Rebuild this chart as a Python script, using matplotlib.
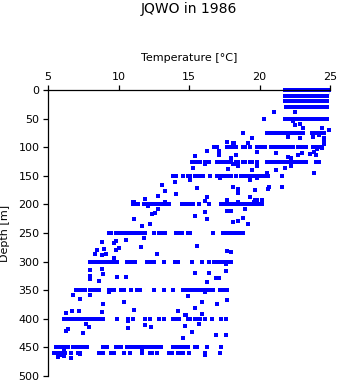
import numpy as np
import matplotlib
matplotlib.use("Agg")
from matplotlib import pyplot as plt

# temperatures (degC)
t_000 = [21.8, 21.9, 22.0, 22.1, 22.2, 22.3, 22.5, 22.7, 22.8, 22.9, 23.0, 23.1, 23.2, 23.3,
         23.6, 23.7, 23.8, 23.9, 24.0, 24.1, 24.2, 24.3, 24.4, 24.5, 24.6, 24.7, 24.8, 24.9]
t_010 = [21.8, 21.9, 22.0, 22.2, 22.3, 22.4, 22.5, 22.6, 22.7, 22.8, 22.9, 23.0, 23.1, 23.2,
         23.3, 23.5, 23.6, 23.7, 23.8, 23.9, 24.0, 24.1, 24.2, 24.3, 24.4, 24.5, 24.6, 24.7, 24.8]
t_020 = [21.8, 21.9, 22.0, 22.1, 22.2, 22.3, 22.4, 22.5, 22.6, 22.7, 22.8, 22.9, 23.0, 23.1,
         23.2, 23.3, 23.5, 23.6, 23.7, 23.8, 23.9, 24.0, 24.1, 24.2, 24.3, 24.4, 24.5, 24.6, 24.7, 24.8]
t_030 = [21.9, 22.0, 22.1, 22.3, 22.4, 22.5, 22.6, 22.7, 22.8, 22.9, 23.0, 23.1, 23.3, 23.5, 23.6,
         23.8, 23.9, 24.0, 24.1, 24.2, 24.3, 24.4, 24.5, 24.6, 24.7, 24.8]
t_050 = [20.3, 21.8, 21.9, 22.1, 22.2, 22.3, 22.5, 22.6, 22.7, 22.8, 23.0, 23.1, 23.2, 23.4,
         23.5, 23.6, 23.8, 23.9, 24.0, 24.1, 24.3, 24.4, 24.5, 24.7, 24.8]
t_075 = [18.8, 20.5, 20.7, 20.9, 21.1, 21.3, 21.6, 21.8, 22.0, 22.2, 22.4, 22.6, 22.7, 22.9,
         23.1, 23.7, 23.9, 24.0, 24.2, 24.4, 24.6]
t_100 = [16.8, 17.0, 17.7, 17.9, 18.1, 18.3, 18.8, 19.0, 19.3, 19.8, 20.0, 20.2, 20.4, 20.8,
         21.0, 21.2, 21.4, 21.6, 21.8, 22.0, 22.2, 22.4, 22.7, 22.9, 23.1, 23.3, 23.8, 24.0, 24.2, 24.4]
t_125 = [15.2, 15.5, 15.8, 16.1, 16.4, 17.0, 17.2, 17.4, 17.6, 17.8, 18.0, 18.3, 18.5, 18.8,
         19.0, 19.3, 19.5, 19.8, 20.5, 20.7, 20.9, 21.1, 21.3, 21.5, 21.7, 21.9, 22.1, 22.3,
         22.5, 22.7, 22.9, 23.1, 23.3, 24.0, 24.2]
t_150 = [13.9, 14.1, 14.6, 14.9, 15.1, 15.4, 15.7, 16.0, 16.5, 17.0, 17.2, 17.5, 17.8, 18.0,
         18.3, 18.7, 18.9, 19.2, 19.5, 19.7, 19.9, 20.2, 20.4, 20.6, 21.6]
t_200 = [11.0, 11.2, 11.4, 11.8, 12.1, 12.3, 12.5, 12.7, 12.9, 13.1, 13.4, 13.6, 14.5, 14.7,
         14.9, 15.1, 15.3, 15.7, 16.4, 17.3, 17.5, 17.7, 18.0, 18.2, 18.4, 18.6, 18.8, 19.0,
         19.2, 19.4, 19.6, 19.8, 20.0, 20.2]
t_250 = [9.3, 9.5, 9.8, 10.0, 10.3, 10.5, 10.7, 10.9, 11.1, 11.3, 11.5, 11.7, 11.9, 12.5, 12.9,
         13.1, 13.3, 14.1, 14.3, 14.5, 14.9, 15.1, 16.7, 17.4, 17.6, 17.8, 18.0, 18.2, 18.4, 18.6, 18.8]
t_300 = [8.0, 8.2, 8.4, 8.6, 8.8, 9.0, 9.2, 9.5, 9.7, 9.9, 10.6, 10.8, 11.0, 11.2, 12.0, 12.2,
         12.5, 13.2, 14.0, 14.2, 15.2, 15.9, 16.4, 16.8, 17.0, 17.2, 17.4, 17.6, 17.8, 18.0]
t_350 = [7.0, 7.2, 7.4, 7.6, 8.0, 8.2, 8.4, 8.6, 9.3, 9.5, 9.7, 10.2, 10.4, 10.9, 11.3, 11.5,
         12.5, 13.2, 13.9, 14.6, 14.8, 15.0, 15.3, 15.5, 15.7, 15.9, 16.1, 16.3, 16.5, 16.7,
         17.2, 17.5, 17.7]
t_400 = [6.1, 6.3, 6.5, 6.7, 6.9, 7.1, 7.3, 7.5, 7.8, 8.0, 8.2, 8.4, 8.6, 8.9, 9.9, 10.7, 11.0,
         11.9, 12.2, 12.9, 13.2, 13.9, 14.1, 14.3, 14.9, 15.1, 15.4, 15.6, 15.8, 16.1, 16.6, 17.3, 17.6]
t_450 = [5.6, 5.8, 6.0, 6.2, 6.4, 6.8, 7.0, 7.2, 7.4, 7.6, 7.8, 8.9, 9.2, 9.8, 10.0, 10.2, 10.6,
         10.9, 11.2, 11.4, 11.7, 11.9, 12.1, 12.3, 12.5, 12.7, 13.0, 13.9, 14.1, 14.3, 14.5,
         14.7, 14.9, 15.4, 15.6, 16.3, 17.3]
t_460 = [5.4, 5.6, 5.8, 6.0, 6.2, 6.6, 7.1, 7.3, 8.6, 8.9, 9.5, 9.7, 10.4, 10.8, 11.7, 12.2,
         12.4, 12.7, 13.6, 13.8, 14.2, 14.4, 14.6, 15.0, 16.1, 17.2]

rows = {0: t_000, 10: t_010, 20: t_020, 30: t_030, 50: t_050, 75: t_075, 100: t_100,
        125: t_125, 150: t_150, 200: t_200, 250: t_250, 300: t_300, 350: t_350,
        400: t_400, 450: t_450, 460: t_460}

# casts that fall between the standard depths
extra_temp = [21.0, 22.5, 22.4, 22.5, 22.9, 23.1, 24.4, 24.9, 19.5, 22.0, 22.9, 23.8, 24.2,
              24.6, 24.6, 18.1, 19.2, 19.8, 21.2, 22.0, 22.2, 22.7, 23.0, 23.6, 23.9, 24.1,
              24.4, 24.6, 24.0, 18.0, 18.3, 19.8, 19.5, 20.5, 21.2, 21.8, 22.2, 23.9,
              17.7, 18.2, 17.1, 16.3, 15.4, 17.1, 18.3, 18.0, 16.1, 15.3, 17.8, 18.1, 18.5,
              14.0, 15.1, 17.2, 19.3, 19.8, 15.6, 18.1, 18.5, 18.5, 19.7, 19.3, 19.8, 13.1,
              13.3, 12.8, 14.1, 16.3, 16.1, 12.8, 12.4, 17.7, 18.0, 19.0, 15.4, 16.1,
              11.1, 11.9, 12.6, 11.1, 11.7, 12.2, 8.8, 9.7, 9.8, 10.5, 11.8, 11.6, 9.8, 8.5,
              8.3, 9.1, 8.8, 9.7, 12.7, 8.0, 8.8, 8.0, 8.9, 9.9, 10.5, 8.0,
              8.6, 9.3, 6.8, 7.3, 8.0, 8.9, 10.4, 11.1, 7.2, 6.7, 8.8, 6.3, 7.7, 7.9, 6.4,
              6.3, 7.5, 10.7, 10.7, 11.9, 6.6, 7.3, 6.1, 11.7,
              16.3, 16.9, 17.1, 16.1, 14.9, 17.7, 15.9, 17.0, 14.2, 15.4, 15.9, 14.7, 12.3,
              14.7, 15.7, 15.2, 14.6, 16.9, 17.6, 16.1, 15.6, 17.7, 18.0, 17.6, 15.4, 16.4,
              17.6, 14.8, 17.7, 18.5, 19.7, 16.3, 18.5, 18.1, 19.2, 18.8,
              20.6, 20.7, 21.6, 19.3, 20.2, 19.8, 19.5, 19.6, 11.0, 13.3, 12.1, 9.0, 10.0,
              5.9, 6.1, 5.7]
extra_depth = [39, 39, 54, 61, 59, 66, 66, 70, 84, 82, 84, 82, 79,
               84, 89, 93, 93, 108, 110, 117, 119, 114, 110, 112, 108, 103,
               101, 94, 114, 119, 129, 133, 140, 145, 140, 136, 133, 145,
               91, 93, 107, 107, 115, 114, 114, 121, 129, 136, 138, 129, 133,
               160, 157, 154, 157, 154, 171, 170, 180, 173, 175, 187, 192, 166,
               177, 185, 182, 187, 194, 208, 217, 211, 211, 208, 220, 213,
               196, 191, 215, 226, 238, 234, 266, 267, 264, 262, 259, 274, 280, 280,
               287, 287, 288, 294, 287, 315, 313, 325, 322, 327, 327, 330,
               334, 353, 358, 365, 358, 374, 371, 385, 386, 386, 388, 390, 409, 414, 418,
               421, 425, 404, 416, 411, 469, 462, 453, 453,
               336, 329, 329, 353, 360, 367, 371, 374, 386, 381, 392, 393, 414,
               413, 409, 423, 434, 428, 428, 463, 273, 281, 283, 304, 320, 320,
               316, 393, 192, 196, 192, 226, 229, 231, 234, 224,
               173, 170, 170, 187, 192, 198, 200, 195, 196, 196, 202, 278, 276,
               463, 465, 467]

temp = np.concatenate([np.array(v, dtype=float) for v in rows.values()] + [np.array(extra_temp)])
depth = np.concatenate([np.full(len(v), float(d)) for d, v in rows.items()] + [np.array(extra_depth, dtype=float)])

fig = plt.figure(figsize=(3.41, 3.84), dpi=100)
ax = fig.add_axes([48 / 341, 8 / 384, 282 / 341, 286 / 384])

ax.scatter(temp, depth, marker='s', s=6.5, color='#0000ff', linewidths=0, clip_on=False)

ax.set_xlim(5, 25)
ax.set_ylim(500, 0)
ax.set_xticks([5, 10, 15, 20, 25])
ax.set_yticks(range(0, 501, 50))

ax.xaxis.tick_top()
ax.xaxis.set_label_position('top')
ax.spines['right'].set_visible(False)
ax.spines['bottom'].set_visible(False)
for s in ['top', 'left']:
    ax.spines[s].set_linewidth(0.9)
ax.tick_params(axis='both', direction='out', length=3.6, width=0.9, labelsize=8, pad=2.5)
# small end mark at the right of the temperature axis
ax.axvline(25, ymin=0.986, ymax=1, color='black', lw=0.9)

ax.set_xlabel('Temperature [°C]', fontsize=8)
ax.xaxis.set_label_coords(0.5, 1.101)
ax.set_ylabel('Depth [m]', fontsize=8)
ax.yaxis.set_label_coords(-0.136, 0.5)

fig.text(189 / 341, 1 - 8.5 / 384, 'JQWO in 1986', ha='center', va='center', fontsize=10)

plt.savefig('out.png', dpi=100)
